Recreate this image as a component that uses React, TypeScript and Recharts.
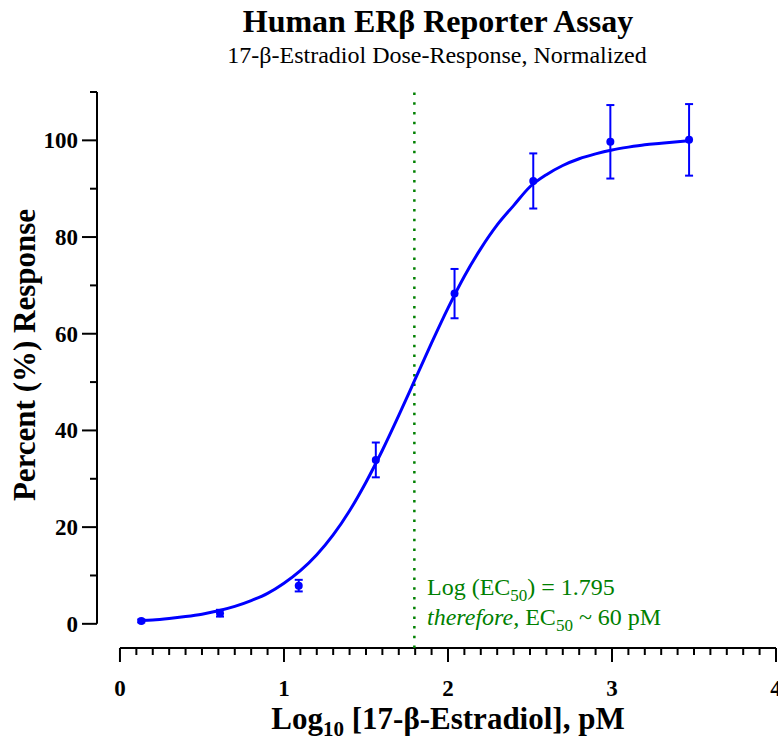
import React from "react";
import {
  ComposedChart,
  Line,
  Scatter,
  ErrorBar,
  XAxis,
  YAxis,
  ReferenceLine,
} from "recharts";

// measured points (log10 dose, mean %, error)
const doseLog = [0.13, 0.61, 1.09, 1.56, 2.04, 2.52, 2.99, 3.47];
const responseMean = [0.6, 2.2, 7.9, 33.9, 68.3, 91.6, 99.7, 100.1];
const responseErr = [0.3, 0.7, 1.2, 3.6, 5.1, 5.7, 7.6, 7.4];

// fitted curve
const fitX = [
  0.13, 0.2, 0.3, 0.4, 0.5, 0.6, 0.7, 0.8, 0.9, 1.0, 1.1, 1.2, 1.3, 1.4, 1.5,
  1.6, 1.7, 1.8, 1.9, 2.0, 2.1, 2.2, 2.3, 2.4, 2.5, 2.6, 2.7, 2.8, 2.9, 3.0,
  3.1, 3.2, 3.3, 3.4, 3.47,
];
const fitY = [
  0.7, 0.8, 1.1, 1.5, 2.0, 2.7, 3.6, 4.8, 6.3, 8.4, 11.0, 14.3, 18.4, 23.4,
  29.3, 35.9, 43.1, 50.6, 58.1, 65.3, 71.9, 77.6, 82.5, 86.5, 90.4, 92.9, 94.8,
  96.2, 97.2, 98.0, 98.6, 99.1, 99.4, 99.7, 99.9,
];

const xTicks = Array.from({ length: 41 }, (_, i) => i / 10);
const yTicks = [0, 10, 20, 30, 40, 50, 60, 70, 80, 90, 100, 110];
const ec50Log = 1.795;

const BLUE = "#0000ff";
const GREEN = "#008000";
const FONT = "'Liberation Serif', 'Times New Roman', serif";

const points = doseLog.map((x, i) => ({
  x,
  y: responseMean[i],
  err: responseErr[i],
}));
const fit = fitX.map((x, i) => ({ x, y: fitY[i] }));

const XTick = (props: any) => {
  const { x, y, payload } = props;
  const v = payload.value as number;
  const major = Math.abs(v - Math.round(v)) < 1e-6;
  return (
    <g>
      <line x1={x} x2={x} y1={y} y2={y + (major ? 14 : 7)} stroke="#000" strokeWidth={2} />
      {major && (
        <text x={x} y={y + 48} textAnchor="middle" fontFamily={FONT} fontWeight="bold" fontSize={23} fill="#000">
          {Math.round(v)}
        </text>
      )}
    </g>
  );
};

const YTick = (props: any) => {
  const { x, y, payload } = props;
  const v = payload.value as number;
  const major = v % 20 === 0;
  return (
    <g>
      <line x1={x - (major ? 15 : 7)} x2={x} y1={y} y2={y} stroke="#000" strokeWidth={2} />
      {major && (
        <text x={x - 19} y={y + 8} textAnchor="end" fontFamily={FONT} fontWeight="bold" fontSize={23} fill="#000">
          {v}
        </text>
      )}
    </g>
  );
};

const Dot = (props: any) => <circle cx={props.cx} cy={props.cy} r={4} fill={BLUE} />;

export default function App() {
  return (
    <div style={{ position: "absolute", left: 0, top: 0, width: 778, height: 747, background: "#fff" }}>
      <ComposedChart
        width={778}
        height={747}
        margin={{ top: 92, right: 2, bottom: 0, left: 0 }}
      >
        <XAxis
          type="number"
          dataKey="x"
          domain={[-0.14, 4]}
          allowDataOverflow
          ticks={xTicks}
          interval={0}
          height={99}
          axisLine={false}
          tickLine={false}
          tickSize={0}
          tickMargin={0}
          tick={<XTick />}
        />
        <YAxis
          type="number"
          dataKey="y"
          domain={[-5, 110]}
          allowDataOverflow
          ticks={yTicks}
          interval={0}
          width={97}
          axisLine={false}
          tickLine={false}
          tickSize={0}
          tickMargin={0}
          tick={<YTick />}
        />
        <ReferenceLine
          segment={[{ x: 0, y: -5 }, { x: 4, y: -5 }]}
          stroke="#000"
          strokeWidth={2}
          ifOverflow="visible"
        />
        <ReferenceLine
          segment={[{ x: -0.14, y: 0 }, { x: -0.14, y: 110 }]}
          stroke="#000"
          strokeWidth={2}
          ifOverflow="visible"
        />
        <ReferenceLine
          x={ec50Log}
          stroke={GREEN}
          strokeWidth={2.5}
          strokeDasharray="2.5 7.2"
          ifOverflow="visible"
        />
        <Line
          data={fit}
          dataKey="y"
          type="monotone"
          stroke={BLUE}
          strokeWidth={3}
          dot={false}
          activeDot={false}
          isAnimationActive={false}
        />
        <Scatter data={points} dataKey="y" shape={<Dot />} isAnimationActive={false}>
          <ErrorBar dataKey="err" direction="y" width={4} stroke={BLUE} strokeWidth={2} />
        </Scatter>
      </ComposedChart>

      <svg
        width={778}
        height={747}
        style={{ position: "absolute", left: 0, top: 0, pointerEvents: "none" }}
        fontFamily={FONT}
      >
        <text x={438} y={32} textAnchor="middle" fontWeight="bold" fontSize={32} fill="#000">
          Human ERβ Reporter Assay
        </text>
        <text x={437} y={63} textAnchor="middle" fontSize={24} fill="#000">
          17-β-Estradiol Dose-Response, Normalized
        </text>
        <text
          x={35}
          y={355}
          textAnchor="middle"
          fontWeight="bold"
          fontSize={31}
          fill="#000"
          transform="rotate(-90, 35, 355)"
        >
          Percent (%) Response
        </text>
        <text x={448} y={729} textAnchor="middle" fontWeight="bold" fontSize={31} fill="#000">
          Log<tspan fontSize={21} dy={7}>10</tspan>
          <tspan dy={-7}> [17-β-Estradiol], pM</tspan>
        </text>
        <text x={427} y={595} fontSize={24} fill={GREEN}>
          Log (EC<tspan fontSize={17} dy={6}>50</tspan>
          <tspan dy={-6}>) = 1.795</tspan>
        </text>
        <text x={427} y={625} fontSize={24} fill={GREEN}>
          <tspan fontStyle="italic">therefore,</tspan> EC<tspan fontSize={17} dy={6}>50</tspan>
          <tspan dy={-6}> ~ 60 pM</tspan>
        </text>
      </svg>
    </div>
  );
}
